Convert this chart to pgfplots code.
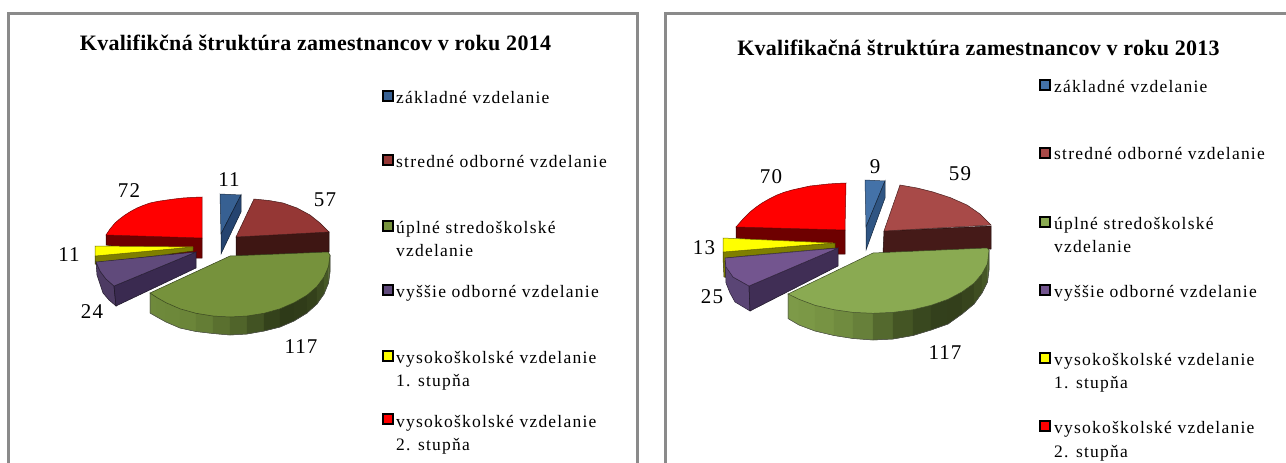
\documentclass[border=0pt]{standalone}
\usepackage{pgfplots}
\pgfplotsset{compat=1.18}
\usepackage{fontspec}
\setmainfont{Liberation Serif}
\newfontfamily\lf[LetterSpace=7]{Liberation Serif}
\newfontfamily\vf[LetterSpace=5]{Liberation Serif}
\newfontfamily\tf[LetterSpace=1.3]{Liberation Serif Bold}
\newcommand{\poly}[2]{\addplot[fill=#1,draw=#1!45!black,line width=.5pt] coordinates {#2} --cycle;}
\newcommand{\leg}[3]{\node[anchor=base west,inner sep=0pt] at (axis cs:#1,#2) {\fontsize{17.5}{19}\selectfont\lf #3};}
\newcommand{\val}[3]{\node[inner sep=0pt,anchor=center] at (axis cs:#1,#2) {\fontsize{21}{22}\selectfont\vf #3};}
\newcommand{\key}[3]{\addplot[only marks,mark=square*,mark size=5pt,mark options={fill=#1,draw=black,line width=1.6pt,rounded corners=1pt}] coordinates {(#2,#3)};}
\definecolor{bl}{HTML}{376092}\definecolor{bls}{HTML}{254470}
\definecolor{br}{HTML}{953735}\definecolor{brs}{HTML}{3E1613}
\definecolor{gr}{HTML}{76923C}
\definecolor{pu}{HTML}{604A7B}\definecolor{pus}{HTML}{3A2A50}\definecolor{puo}{HTML}{4D3B63}
\definecolor{re}{HTML}{FF0000}\definecolor{res}{HTML}{6E0000}
\definecolor{ye}{HTML}{FFFF00}\definecolor{yes}{HTML}{7F7F00}
\definecolor{blb}{HTML}{4472A8}\definecolor{blbs}{HTML}{2F5583}
\definecolor{brb}{HTML}{A84A48}\definecolor{brbs}{HTML}{451A18}
\definecolor{grb}{HTML}{8AAA52}
\definecolor{pub}{HTML}{73558F}\definecolor{pubs}{HTML}{402E55}\definecolor{puob}{HTML}{5A4575}
\definecolor{frm}{HTML}{8A8A8A}
% side-wall strips, one colour each: x1 top1 bottom1 x2 top2 bottom2 colour
\newcommand{\strip}[7]{\addplot[fill={rgb,255:red,#7},draw={rgb,255:red,#7},line width=.4pt] coordinates {(#1,#2)(#1,#3)(#4,#6)(#4,#5)} --cycle;}
\begin{document}
\begin{tikzpicture}
\begin{axis}[scale only axis,width=1286pt,height=463pt,xmin=0,xmax=1286,ymin=0,ymax=463,y dir=reverse,
  axis line style={draw=none},ticks=none,clip=true]
% frames
\addplot[frm,line width=3pt] coordinates {(8,470) (8,13.5) (637,13.5) (637,470)};
\addplot[frm,line width=3pt] coordinates {(665,470) (665,13.5) (1290,13.5)};
% ---------- 2014 pie
\poly{res}{(106,235)(106,245)(193,258)(202,258)(202,238)}
\poly{re}{(202,197)(192.5,197.4)(183,198)(175,198.9)(167,200)(158,201.3)(150,203)(143,205.5)(137,208)(131,211.2)(125,215)(120,218.7)(115,223)(110,229)(106,235)(202,238)}
\poly{bl}{(220,194)(241,195)(221,234)}
\poly{bls}{(241,195)(241,212)(221,254)(221,234)}
\poly{brs}{(236,237)(329,232)(329,252)(236,256)}
\poly{br}{(236,237)(254,199)(269,200.5)(283,203)(297,208)(310,215)(320,223)(329,232)}
\strip{150}{293}{313}{157}{297.6}{317}{111;green,138;blue,60}
\strip{157}{297.6}{317}{166}{302.7}{322}{110;green,137;blue,59}
\strip{166}{302.7}{322}{180}{308.8}{328}{109;green,136;blue,58}
\strip{180}{308.8}{328}{196}{313.3}{331.5}{107;green,133;blue,57}
\strip{196}{313.3}{331.5}{213}{316}{333.5}{100;green,125;blue,53}
\strip{213}{316}{333.5}{230}{317}{335}{90;green,112;blue,47}
\strip{230}{317}{335}{247}{316}{334}{80;green,100;blue,42}
\strip{247}{316}{334}{264}{313.3}{331}{66;green,83;blue,35}
\strip{264}{313.3}{331}{280}{308.8}{327}{52;green,66;blue,27}
\strip{280}{308.8}{327}{294}{302.7}{321}{46;green,58;blue,24}
\strip{294}{302.7}{321}{307}{295.2}{313}{48;green,60;blue,25}
\strip{307}{295.2}{313}{317}{286.5}{304}{52;green,65;blue,27}
\strip{317}{286.5}{304}{324}{277}{294}{60;green,75;blue,32}
\strip{324}{277}{294}{328.5}{266.6}{283}{70;green,88;blue,38}
\strip{328.5}{266.6}{283}{330}{255}{272}{76;green,95;blue,42}
\addplot[black!70,line width=.5pt] coordinates {(150,293)(150,313)(157,317)(166,322)(180,328)(196,331.5)(213,333.5)(230,335)(247,334)(264,331)(280,327)(294,321)(307,313)(317,304)(324,294)(328.5,283)(330,272)(330,255)};
\poly{gr}{(230,256)(328,252)(330,255)(328.5,266.6)(324,277)(317,286.5)(307,295.2)(294,302.7)(280,308.8)(264,313.3)(247,316)(230,317)(213,316)(196,313.3)(180,308.8)(166,302.7)(157,297.6)(150,293)}
\poly{yes}{(95,256)(193,247)(193,251)(108,262)(99,264)(95,264)}
\poly{ye}{(95,246)(193,247)(95,256)}
\poly{puo}{(96,262)(97,275)(103,293)(109,300)(116,306)(114,286)(106,279)(100,271)}
\poly{pus}{(114,286)(196,252)(196,268)(116,306)}
\poly{pu}{(196,252)(96,262)(100,271)(106,279)(114,286)}
\val{229}{180}{11}\val{325}{200}{57}\val{301}{347}{117}\val{92}{312}{24}\val{69}{255}{11}\val{129}{191}{72}
\node[anchor=base,inner sep=0pt] at (axis cs:315.5,50) {\fontsize{22}{24}\selectfont\tf Kvalifikčná štruktúra zamestnancov v roku 2014};
\key{bl}{388}{96}\key{br}{388}{160}\key{gr}{388}{226}\key{pu}{388}{290}\key{ye}{388}{356}\key{re}{388}{419}
\leg{396}{103}{základné vzdelanie}
\leg{396}{167}{stredné odborné vzdelanie}
\leg{396}{233}{úplné stredoškolské}
\leg{396}{256}{vzdelanie}
\leg{396}{297}{vyššie odborné vzdelanie}
\leg{396}{363}{vysokoškolské vzdelanie}
\leg{396}{386}{1. stupňa}
\leg{396}{427}{vysokoškolské vzdelanie}
\leg{396}{450}{2. stupňa}
% ---------- 2013 pie
\poly{res}{(736,227)(736,238)(835,250)(835,254)(845,254)(845,230)}
\poly{re}{(846,183)(837,183.4)(828,184)(819,185)(810,186)(801,188)(792,190)(784,192.3)(777,195)(769,199)(762,203)(756,207.2)(750,212)(743,219)(736,227)(845,230)}
\poly{blb}{(865,180)(885,181)(866,227)}
\poly{blbs}{(885,181)(885,198)(866,250)(866,227)}
\poly{brbs}{(884,231)(991,226)(991,249)(883,253)}
\poly{brb}{(884,231)(900,185)(917,188)(933,192)(950,197.5)(967,205)(980,214)(991,225)}
\strip{788}{294}{318.5}{799}{299.3}{325}{125;green,154;blue,72}
\strip{799}{299.3}{325}{815}{305.3}{331}{123;green,152;blue,70}
\strip{815}{305.3}{331}{834}{309.7}{335.5}{119;green,147;blue,67}
\strip{834}{309.7}{335.5}{853}{312.4}{338.5}{112;green,139;blue,63}
\strip{853}{312.4}{338.5}{873}{313.3}{340}{103;green,128;blue,58}
\strip{873}{313.3}{340}{893}{312.4}{339}{84;green,105;blue,46}
\strip{893}{312.4}{339}{913}{309.7}{335.5}{68;green,85;blue,36}
\strip{913}{309.7}{335.5}{931}{305.3}{330}{57;green,72;blue,31}
\strip{931}{305.3}{330}{948}{299.3}{324}{51;green,64;blue,28}
\strip{948}{299.3}{324}{962}{291.9}{314}{51;green,63;blue,27}
\strip{962}{291.9}{314}{974}{283.3}{304}{55;green,68;blue,29}
\strip{974}{283.3}{304}{982}{273.8}{293}{62;green,77;blue,33}
\strip{982}{273.8}{293}{987.5}{263.7}{282}{70;green,87;blue,38}
\strip{987.5}{263.7}{282}{989}{250}{270}{78;green,97;blue,44}
\addplot[black!70,line width=.5pt] coordinates {(788,294)(788,318.5)(799,325)(815,331)(834,335.5)(853,338.5)(873,340)(893,339)(913,335.5)(931,330)(948,324)(962,314)(974,304)(982,293)(987.5,282)(989,270)(989,250)};
\poly{grb}{(873,253)(987,248)(989,250)(987.5,263.7)(982,273.8)(974,283.3)(962,291.9)(948,299.3)(931,305.3)(913,309.7)(893,312.4)(873,313.3)(853,312.4)(834,309.7)(815,305.3)(799,299.3)(788,294)}
\poly{yes}{(723,252)(835,243)(835,248)(745,256)(727,258)(727,277)(724,277)(723,258)}
\poly{ye}{(723,238)(833,243)(723,252)}
\poly{puob}{(725,262)(726,283)(730,293)(735,302)(750,311)(749,286)(733,277)}
\poly{pubs}{(749,286)(838,248)(838,266)(750,311)}
\poly{pub}{(838,248)(725,258)(726,267)(733,277)(749,286)}
\val{875}{167}{9}\val{960}{174}{59}\val{771}{177}{70}\val{704}{248}{13}\val{712}{297}{25}\val{945}{353}{117}
\node[anchor=base,inner sep=0pt] at (axis cs:978.5,55) {\fontsize{22}{24}\selectfont\tf Kvalifikačná štruktúra zamestnancov v roku 2013};
\key{blb}{1045}{85}\key{brb}{1045}{153}\key{grb}{1045}{222}\key{pub}{1045}{290}\key{ye}{1045}{358}\key{re}{1045}{426}
\leg{1054}{92}{základné vzdelanie}
\leg{1054}{159}{stredné odborné vzdelanie}
\leg{1054}{229}{úplné stredoškolské}
\leg{1054}{252}{vzdelanie}
\leg{1054}{297}{vyššie odborné vzdelanie}
\leg{1054}{365}{vysokoškolské vzdelanie}
\leg{1054}{388}{1. stupňa}
\leg{1054}{433}{vysokoškolské vzdelanie}
\leg{1054}{457}{2. stupňa}
\end{axis}
\end{tikzpicture}
\end{document}
